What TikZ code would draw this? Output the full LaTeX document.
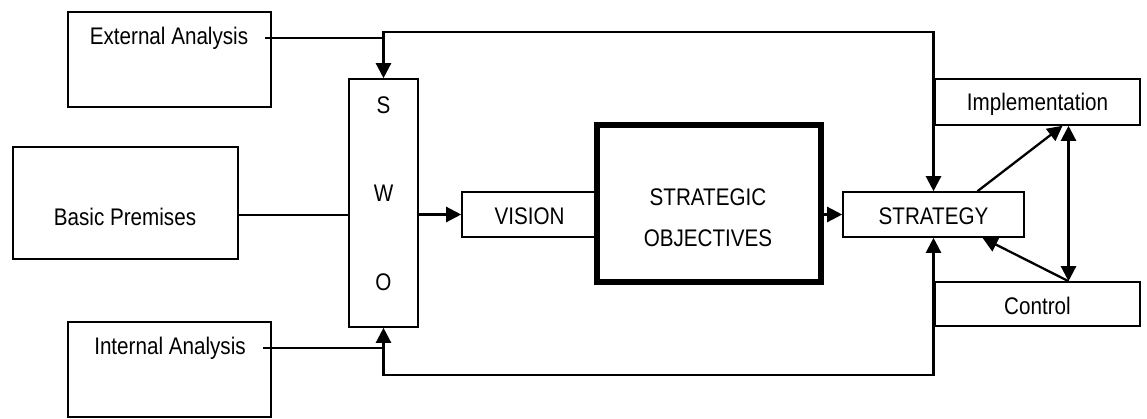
\documentclass[tikz,border=0pt]{standalone}
\usepackage{fontspec}
\setmainfont{Liberation Sans}[FakeStretch=0.86]
\usetikzlibrary{arrows.meta}
\begin{document}
\begin{tikzpicture}[x=1pt,y=-1pt,
  lbl/.style={font=\fontsize{24}{28}\selectfont, inner sep=0pt},
  box/.style={draw, line width=1.6pt, inner sep=0pt},
  wire/.style={line width=1.4pt},
  bus/.style={line width=2.3pt},
  tip/.style={-{Triangle[length=15pt,width=15pt]}},
  tips/.style={{Triangle[length=15pt,width=15pt]}-{Triangle[length=15pt,width=15pt]}}
]
\useasboundingbox (0,0) rectangle (1147,418);
% boxes
\node[box, minimum width=203pt, minimum height=95pt] (ext) at (169.5,59.5) {};
\node[lbl] (extt) at (169,38) {External Analysis};
\node[box, minimum width=203pt, minimum height=95pt] (int) at (169.5,369.5) {};
\node[lbl] (intt) at (170,348) {Internal Analysis};
\node[box, minimum width=225pt, minimum height=112pt] (basic) at (125.5,203) {};
\node[lbl] (basict) at (125,217) {Basic Premises};
\node[box, minimum width=69pt, minimum height=248pt] (swot) at (383.5,203) {};
\node[lbl] (s) at (383.5,105) {S};
\node[lbl] (w) at (383.5,193) {W};
\node[lbl] (o) at (383.5,282) {O};
\node[box, minimum width=133pt, minimum height=45pt] (vision) at (528.5,214.5) {};
\node[lbl] (visiont) at (529.5,216) {VISION};
\node[draw, line width=6.5pt, inner sep=0pt, minimum width=224pt, minimum height=157pt] (so) at (709,203.5) {};
\node[lbl, align=center] (sot) at (708,217.5) {STRATEGIC\\[13pt]OBJECTIVES};
\node[box, minimum width=181pt, minimum height=45pt] (strat) at (933.5,214.5) {};
\node[lbl] (stratt) at (933.5,216) {STRATEGY};
\node[box, minimum width=205pt, minimum height=46pt] (impl) at (1037.5,102) {};
\node[lbl] (implt) at (1037.5,104) {Implementation};
\node[box, minimum width=205pt, minimum height=44pt] (ctrl) at (1037.5,304) {};
\node[lbl] (ctrlt) at (1037.5,306) {Control};
% corners of the feedback loops
\coordinate (top) at (600,32);
\coordinate (bot) at (600,375);
% connectors
\draw[wire] ([xshift=17pt]extt.east) -- (extt.east -| swot.north);
\draw[wire] ([xshift=17pt]intt.east) -- (intt.east -| swot.south);
\draw[bus, tips] (swot.north) |- (top) -| (strat.north);
\draw[bus, tips] (swot.south) |- (bot) -| (strat.south);
\draw[wire] ([yshift=-12pt]basic.east) -- ([yshift=-12pt]basic.east -| swot.west);
\draw[bus, tip] (swot.east |- vision.west) -- (vision.west);
\draw[bus, tip] (so.east |- strat.west) -- (strat.west);
\draw[bus, tip] ([xshift=44pt]strat.north) -- ([xshift=25pt]impl.south);
\draw[bus, tips] ([xshift=31pt]impl.south) -- ([xshift=31pt]ctrl.north);
\draw[bus, tip] ([xshift=31pt]ctrl.north) -- ([xshift=49pt]strat.south);
\end{tikzpicture}
\end{document}
